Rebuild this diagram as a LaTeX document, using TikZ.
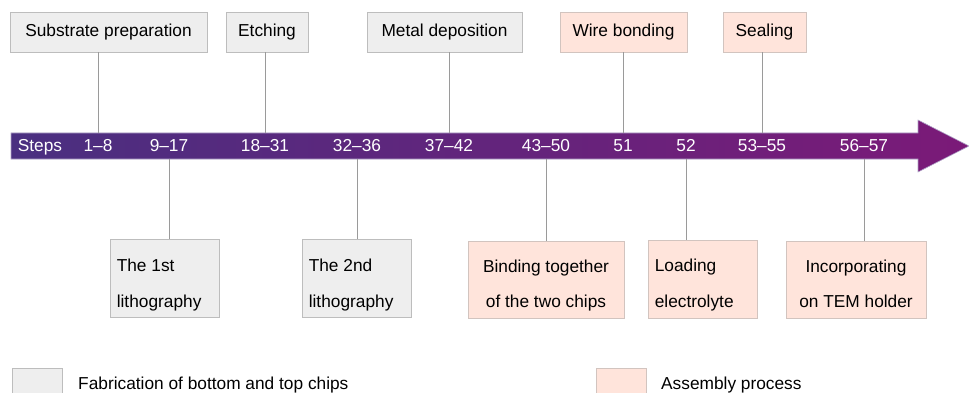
\documentclass[tikz,border=0pt]{standalone}
\usepackage{fontspec}
\setmainfont{Liberation Sans}
\definecolor{barL}{HTML}{4A2F80}
\definecolor{barR}{HTML}{7B1A78}
\definecolor{fabfill}{HTML}{EEEEEE}
\definecolor{fabdraw}{HTML}{BDBDBD}
\definecolor{asmfill}{HTML}{FFE4DB}
\definecolor{asmdraw}{HTML}{D2C4BF}
\definecolor{connc}{HTML}{9A9A9A}
\begin{document}
\begin{tikzpicture}[x=1pt,y=-1pt,
  every node/.style={font=\fontsize{17.3}{20}\selectfont},
  fab/.style={draw=fabdraw, fill=fabfill, line width=0.8pt, inner sep=0pt,
    text height=12pt, text depth=2pt, minimum height=40pt},
  asm/.style={fab, draw=asmdraw, fill=asmfill},
  stp/.style={text=white, inner sep=0pt, minimum height=26pt, text height=12pt, text depth=0pt},
  conn/.style={draw=connc, line width=0.8pt},
  txt/.style={inner sep=0pt}]
\useasboundingbox (0,0) rectangle (969,393);

% timeline arrow
\path[left color=barL, right color=barR, draw=white!55!barL, line width=0.6pt]
  (11,133) -- (918,133) -- (918,120) -- (969,146) -- (918,172) -- (918,159) -- (11,159) -- cycle;

% step labels
\node[stp] (steps) at (40,146) {Steps};
\node[stp] (s1)  at (98,146)  {1--8};
\node[stp] (s9)  at (169,146) {9--17};
\node[stp] (s18) at (265,146) {18--31};
\node[stp] (s32) at (357,146) {32--36};
\node[stp] (s37) at (449,146) {37--42};
\node[stp] (s43) at (546,146) {43--50};
\node[stp] (s51) at (623,146) {51};
\node[stp] (s52) at (686,146) {52};
\node[stp] (s53) at (762,146) {53--55};
\node[stp] (s56) at (864,146) {56--57};

% top boxes
\node[fab, minimum width=197pt] (sub)   at (108.5,32) {Substrate preparation};
\node[fab, minimum width=82pt]  (etch)  at (267,32)   {Etching};
\node[fab, minimum width=155pt] (metal) at (444.5,32) {Metal deposition};
\node[asm, minimum width=127pt] (wire)  at (623.5,32) {Wire bonding};
\node[asm, minimum width=83pt]  (seal)  at (764.5,32) {Sealing};

% bottom boxes
\node[fab, minimum width=109pt, minimum height=78pt] (lith1) at (164.5,278) {};
\node[fab, minimum width=109pt, minimum height=78pt] (lith2) at (356.5,278) {};
\node[asm, minimum width=156pt, minimum height=77pt] (bind)  at (546,279.5) {};
\node[asm, minimum width=109pt, minimum height=78pt] (load)  at (702.5,279) {};
\node[asm, minimum width=140pt, minimum height=77pt] (incorp) at (856,279.5) {};

\node[txt, anchor=base west] (lith1a) at ([shift={(7pt,-33pt)}]lith1.north west) {The 1st};
\node[txt, anchor=base west] (lith1b) at ([shift={(7pt,-69pt)}]lith1.north west) {lithography};
\node[txt, anchor=base west] (lith2a) at ([shift={(7pt,-33pt)}]lith2.north west) {The 2nd};
\node[txt, anchor=base west] (lith2b) at ([shift={(7pt,-69pt)}]lith2.north west) {lithography};
\node[txt, anchor=base] (binda) at ([yshift=-32pt]bind.north) {Binding together};
\node[txt, anchor=base] (bindb) at ([yshift=-67pt]bind.north) {of the two chips};
\node[txt, anchor=base west] (loada) at ([shift={(7pt,-32pt)}]load.north west) {Loading};
\node[txt, anchor=base west] (loadb) at ([shift={(7pt,-68pt)}]load.north west) {electrolyte};
\node[txt, anchor=base] (incorpa) at ([yshift=-32pt]incorp.north) {Incorporating};
\node[txt, anchor=base] (incorpb) at ([yshift=-67pt]incorp.north) {on TEM holder};

% connectors
\draw[conn] (s1.north)  -- (s1.north  |- sub.south);
\draw[conn] (s18.north) -- (s18.north |- etch.south);
\draw[conn] (s37.north) -- (s37.north |- metal.south);
\draw[conn] (s51.north) -- (s51.north |- wire.south);
\draw[conn] (s53.north) -- (s53.north |- seal.south);
\draw[conn] (s9.south)  -- (s9.south  |- lith1.north);
\draw[conn] (s32.south) -- (s32.south |- lith2.north);
\draw[conn] (s43.south) -- (s43.south |- bind.north);
\draw[conn] (s52.south) -- (s52.south |- load.north);
\draw[conn] (s56.south) -- (s56.south |- incorp.north);

% legend
\node[fab, minimum width=50pt, minimum height=32pt, anchor=north west] (legfab) at (12,368) {};
\node[txt, anchor=base west] (legfabt) at (78,389) {Fabrication of bottom and top chips};
\node[asm, minimum width=50pt, minimum height=32pt, anchor=north west] (legasm) at (596,368) {};
\node[txt, anchor=base west] (legasmt) at (661,389) {Assembly process};
\end{tikzpicture}
\end{document}
